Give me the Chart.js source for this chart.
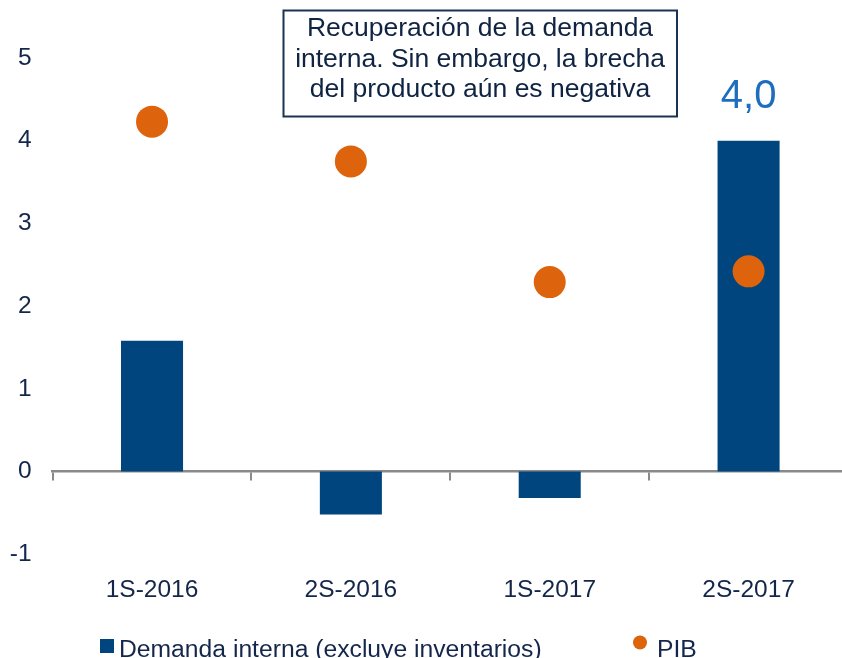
<!DOCTYPE html>
<html>
<head>
<meta charset="utf-8">
<script src="https://cdn.jsdelivr.net/npm/chart.js@4.4.1/dist/chart.umd.min.js"></script>
<style>
  html, body { margin: 0; padding: 0; background: #fff; overflow: hidden; }
  #wrap { position: relative; width: 848px; height: 658px; }
  #chart { display: block; }
</style>
</head>
<body>
<div id="wrap"><canvas id="chart" width="848" height="658"></canvas></div>
<script>
// --- Data ---
const categories = ['1S-2016', '2S-2016', '1S-2017', '2S-2017'];
const demandaInterna = [1.58, -0.52, -0.32, 4.0];
const pib = [4.23, 3.75, 2.29, 2.42];
const yTicks = [-1, 0, 1, 2, 3, 4, 5];
const seriesNames = ['Demanda interna (excluye inventarios)', 'PIB'];
const labelledBars = [3];
const noteLines = [
    'Recuperación de la demanda',
    'interna. Sin embargo, la brecha',
    'del producto aún es negativa'
];

const FONT = "'Liberation Sans', Arial, sans-serif";
const TEXT = '#14264a';
const NAVY = '#01457f';
const ORANGE = '#dd640c';
const AXIS_GREY = '#8a8a8a';

// --- Plugins ---
const barValueLabels = {
    id: 'barValueLabels',
    afterDatasetsDraw(chart) {
        const ctx = chart.ctx;
        const meta = chart.getDatasetMeta(1);
        ctx.save();
        ctx.font = `40px ${FONT}`;
        ctx.fillStyle = '#1f6dbf';
        ctx.textAlign = 'center';
        ctx.textBaseline = 'alphabetic';
        labelledBars.forEach(i => {
            const el = meta.data[i];
            const txt = demandaInterna[i].toFixed(1).replace('.', ',');
            ctx.fillText(txt, el.x, el.y - 33);
        });
        ctx.restore();
    }
};

const noteBox = {
    id: 'noteBox',
    afterDraw(chart) {
        const ctx = chart.ctx;
        ctx.save();
        ctx.strokeStyle = '#1b3352';
        ctx.lineWidth = 2;
        ctx.strokeRect(283.5, 10.5, 393.5, 106);
        ctx.font = `26.5px ${FONT}`;
        ctx.fillStyle = '#0f2342';
        ctx.textAlign = 'center';
        ctx.textBaseline = 'alphabetic';
        const baselines = [36, 66.5, 97];
        noteLines.forEach((line, i) => ctx.fillText(line, 480, baselines[i]));
        ctx.restore();
    }
};

// simple legend under the axis labels
const bottomLegend = {
    id: 'bottomLegend',
    afterDraw(chart) {
        const ctx = chart.ctx;
        ctx.save();
        ctx.font = `24.7px ${FONT}`;
        ctx.textBaseline = 'alphabetic';
        // bar series: square
        ctx.fillStyle = NAVY;
        ctx.fillRect(100, 639, 14, 14);
        ctx.fillStyle = TEXT;
        ctx.fillText(seriesNames[0], 119, 657);
        // PIB: dot
        ctx.fillStyle = ORANGE;
        ctx.beginPath();
        ctx.arc(640, 642.5, 7, 0, Math.PI * 2);
        ctx.fill();
        ctx.fillStyle = TEXT;
        ctx.fillText(seriesNames[1], 657, 657);
        ctx.restore();
    }
};

// --- Chart ---
new Chart(document.getElementById('chart'), {
    type: 'bar',
    data: {
        labels: categories,
        datasets: [
            {
                type: 'line',
                label: seriesNames[1],
                data: pib,
                showLine: false,
                backgroundColor: ORANGE,
                borderColor: ORANGE,
                pointRadius: 16,
                pointHoverRadius: 16,
                pointBorderWidth: 0,
                order: 0
            },
            {
                label: seriesNames[0],
                data: demandaInterna,
                backgroundColor: NAVY,
                borderWidth: 0,
                barPercentage: 0.312,
                categoryPercentage: 1,
                order: 1
            }
        ]
    },
    options: {
        responsive: false,
        animation: false,
        devicePixelRatio: 1,
        layout: { autoPadding: false, padding: { top: 58, left: 0, right: 0, bottom: 0 } },
        plugins: {
            legend: { display: false },
            tooltip: { enabled: false }
        },
        scales: {
            x: {
                type: 'category',
                position: { y: 0 },
                offset: true,
                grid: {
                    offset: true,
                    drawOnChartArea: false,
                    drawTicks: true,
                    tickLength: 8,
                    color: AXIS_GREY,
                    lineWidth: 2
                },
                border: { display: true, color: AXIS_GREY, width: 2.5 },
                ticks: { display: false }
            },
            x2: {
                type: 'category',
                position: 'bottom',
                offset: true,
                grid: { display: false },
                border: { display: false },
                ticks: { padding: 13, color: TEXT, font: { family: FONT, size: 24.5 } },
                afterFit: s => { s.height = 103.8; }
            },
            y: {
                min: yTicks[0],
                max: yTicks[yTicks.length - 1],
                afterBuildTicks: s => { s.ticks = yTicks.map(v => ({ value: v })); },
                grid: { display: false },
                border: { display: false },
                ticks: { padding: 13, color: TEXT, font: { family: FONT, size: 24.5 } },
                afterFit: s => { s.width = 52.6; }
            }
        }
    },
    plugins: [barValueLabels, noteBox, bottomLegend]
});
</script>
</body>
</html>
